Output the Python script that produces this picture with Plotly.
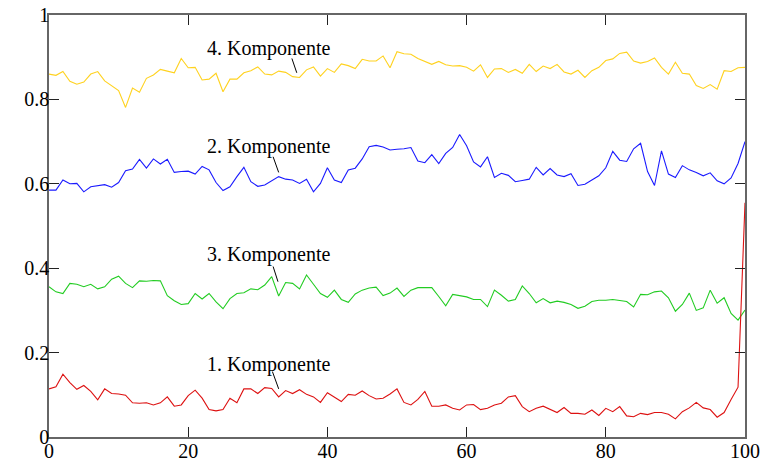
import plotly.graph_objects as go

x = list(range(101))

comp4 = [0.860, 0.857, 0.866, 0.843, 0.836, 0.841, 0.860, 0.866, 0.844, 0.833,
         0.821, 0.781, 0.827, 0.817, 0.850, 0.858, 0.871, 0.867, 0.863, 0.897,
         0.875, 0.876, 0.846, 0.848, 0.862, 0.818, 0.848, 0.848, 0.863, 0.868,
         0.877, 0.860, 0.858, 0.867, 0.864, 0.854, 0.852, 0.870, 0.877, 0.855,
         0.873, 0.864, 0.884, 0.880, 0.873, 0.895, 0.891, 0.891, 0.903, 0.875,
         0.913, 0.908, 0.907, 0.897, 0.890, 0.883, 0.890, 0.882, 0.879, 0.880,
         0.876, 0.867, 0.882, 0.852, 0.872, 0.873, 0.864, 0.871, 0.862, 0.883,
         0.866, 0.879, 0.873, 0.883, 0.865, 0.860, 0.869, 0.852, 0.868, 0.876,
         0.892, 0.896, 0.909, 0.912, 0.891, 0.886, 0.890, 0.898, 0.876, 0.860,
         0.888, 0.862, 0.860, 0.833, 0.826, 0.835, 0.824, 0.868, 0.866, 0.875,
         0.876]

comp2 = [0.585, 0.585, 0.609, 0.600, 0.601, 0.581, 0.593, 0.596, 0.598, 0.592,
         0.603, 0.631, 0.635, 0.658, 0.637, 0.659, 0.647, 0.658, 0.627, 0.629,
         0.630, 0.623, 0.641, 0.633, 0.603, 0.584, 0.593, 0.617, 0.639, 0.605,
         0.594, 0.597, 0.607, 0.617, 0.611, 0.609, 0.601, 0.611, 0.581, 0.601,
         0.638, 0.609, 0.603, 0.633, 0.637, 0.659, 0.688, 0.691, 0.687, 0.680,
         0.682, 0.683, 0.686, 0.654, 0.650, 0.669, 0.648, 0.672, 0.686, 0.717,
         0.690, 0.652, 0.640, 0.664, 0.615, 0.625, 0.620, 0.605, 0.608, 0.611,
         0.639, 0.621, 0.636, 0.621, 0.617, 0.624, 0.596, 0.599, 0.609, 0.619,
         0.638, 0.677, 0.656, 0.653, 0.683, 0.696, 0.629, 0.596, 0.678, 0.623,
         0.615, 0.643, 0.633, 0.627, 0.619, 0.626, 0.607, 0.600, 0.614, 0.648,
         0.700]

comp3 = [0.356, 0.344, 0.340, 0.364, 0.362, 0.356, 0.362, 0.351, 0.356, 0.374,
         0.381, 0.364, 0.354, 0.370, 0.369, 0.371, 0.370, 0.335, 0.323, 0.314,
         0.316, 0.340, 0.327, 0.340, 0.320, 0.304, 0.328, 0.340, 0.342, 0.351,
         0.349, 0.360, 0.380, 0.334, 0.366, 0.364, 0.351, 0.384, 0.362, 0.340,
         0.331, 0.348, 0.326, 0.319, 0.339, 0.348, 0.353, 0.355, 0.335, 0.341,
         0.353, 0.333, 0.348, 0.354, 0.354, 0.354, 0.333, 0.311, 0.338, 0.335,
         0.332, 0.326, 0.326, 0.309, 0.348, 0.336, 0.322, 0.326, 0.358, 0.340,
         0.318, 0.328, 0.318, 0.322, 0.319, 0.314, 0.305, 0.310, 0.321, 0.324,
         0.324, 0.326, 0.323, 0.321, 0.308, 0.338, 0.337, 0.344, 0.346, 0.330,
         0.298, 0.314, 0.341, 0.300, 0.306, 0.348, 0.317, 0.330, 0.293, 0.277,
         0.301]

comp1 = [0.114, 0.119, 0.149, 0.129, 0.113, 0.122, 0.108, 0.088, 0.114, 0.103,
         0.102, 0.099, 0.081, 0.080, 0.081, 0.076, 0.081, 0.095, 0.073, 0.076,
         0.098, 0.111, 0.092, 0.065, 0.062, 0.065, 0.092, 0.081, 0.114, 0.114,
         0.103, 0.117, 0.115, 0.095, 0.110, 0.103, 0.112, 0.101, 0.095, 0.082,
         0.105, 0.095, 0.084, 0.101, 0.099, 0.109, 0.098, 0.090, 0.092, 0.102,
         0.114, 0.082, 0.076, 0.089, 0.108, 0.073, 0.073, 0.076, 0.068, 0.064,
         0.076, 0.077, 0.065, 0.068, 0.076, 0.080, 0.095, 0.098, 0.072, 0.060,
         0.068, 0.073, 0.065, 0.058, 0.070, 0.056, 0.056, 0.054, 0.064, 0.051,
         0.068, 0.060, 0.072, 0.050, 0.048, 0.056, 0.053, 0.058, 0.058, 0.054,
         0.043, 0.060, 0.069, 0.082, 0.069, 0.065, 0.047, 0.058, 0.089, 0.118,
         0.555]

labels = ["4. Komponente", "2. Komponente", "3. Komponente", "1. Komponente"]
label_pos = [(31.6, 0.921), (31.6, 0.688), (31.6, 0.432), (31.6, 0.171)]
pointer_lines = [((34.9, 0.897), (35.6, 0.863)),
                 ((32.2, 0.664), (33.0, 0.627)),
                 ((32.2, 0.404), (32.9, 0.368)),
                 ((32.1, 0.155), (33.0, 0.114))]

series = [("4. Komponente", comp4, "#FFD21F"),
          ("2. Komponente", comp2, "#1A1AFF"),
          ("3. Komponente", comp3, "#22CC22"),
          ("1. Komponente", comp1, "#DD1111")]

FONT = "Liberation Serif, Times New Roman, serif"

fig = go.Figure()
for name, ys, col in series:
    fig.add_trace(go.Scatter(x=x, y=ys, mode="lines", name=name,
                             line=dict(color=col, width=1.1)))

for txt, (tx, ty) in zip(labels, label_pos):
    fig.add_annotation(x=tx, y=ty, text=txt, showarrow=False,
                       font=dict(family=FONT, size=20, color="black"),
                       xanchor="center", yanchor="middle")

for (x0, y0), (x1, y1) in pointer_lines:
    fig.add_shape(type="line", x0=x0, y0=y0, x1=x1, y1=y1, xref="x", yref="y",
                  line=dict(color="black", width=1))

axis_common = dict(showgrid=False, zeroline=False, showline=True, automargin=False,
                   linecolor="#666666", linewidth=1.5, mirror="ticks",
                   ticks="inside", ticklen=10, tickwidth=1.2, tickcolor="#222222",
                   tickfont=dict(family=FONT, size=20, color="black"))

fig.update_xaxes(range=[0, 100], tickvals=[0, 20, 40, 60, 80, 100],
                 ticklabelstandoff=-5, **axis_common)
fig.update_yaxes(range=[0, 1], tickvals=[0, 0.2, 0.4, 0.6, 0.8, 1],
                 ticktext=["0", "0.2", "0.4", "0.6", "0.8", "1"],
                 ticklabelstandoff=-6, **axis_common)

fig.update_layout(width=762, height=465, showlegend=False,
                  margin=dict(l=49, r=17, t=15, b=28),
                  paper_bgcolor="white", plot_bgcolor="white")

fig.write_html("out.html")
